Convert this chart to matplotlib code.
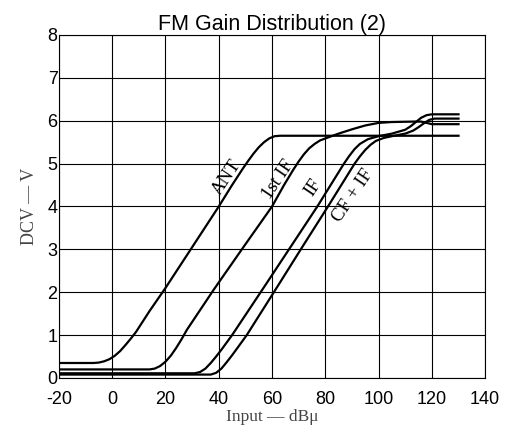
import matplotlib
matplotlib.use("Agg")
import matplotlib.pyplot as plt

plt.rcParams["axes.unicode_minus"] = False

# curves (input dBu, DC volts)
ant_x = [-20, -7, -5, -3, -1, 1, 3, 5, 7, 9, 14, 20, 30, 40, 45, 49, 51, 53, 55, 57, 59, 61, 63, 130]
ant_y = [0.35, 0.35, 0.36, 0.39, 0.44, 0.52, 0.63, 0.77, 0.92, 1.08, 1.56, 2.1, 3.05, 4.0, 4.5, 4.88, 5.06, 5.23, 5.38, 5.5, 5.59, 5.64, 5.65, 5.65]

if1_x = [-20, 14, 16, 18, 20, 22, 24, 26, 28, 38, 49, 60, 64.5, 68, 70, 72, 74, 76, 78, 81, 85, 90, 95, 100, 105, 113, 116, 118, 120, 130]
if1_y = [0.2, 0.2, 0.22, 0.28, 0.38, 0.52, 0.7, 0.9, 1.12, 2.05, 3.03, 4.0, 4.5, 4.86, 5.05, 5.22, 5.36, 5.46, 5.54, 5.61, 5.7, 5.8, 5.89, 5.95, 5.97, 5.98, 5.98, 5.95, 5.92, 5.92]

if_x = [-20, 31, 33, 35, 37, 39, 41, 43, 45, 57, 67, 77, 82, 85, 87, 89, 91, 93, 96, 100, 105, 110, 112, 114, 116, 118, 120, 130]
if_y = [0.11, 0.11, 0.14, 0.22, 0.35, 0.5, 0.66, 0.83, 1.0, 2.12, 3.06, 4.0, 4.5, 4.8, 5.0, 5.18, 5.34, 5.46, 5.57, 5.64, 5.7, 5.79, 5.87, 5.97, 6.07, 6.13, 6.15, 6.15]

cfif_x = [-20, 37, 39, 41, 43, 45, 47, 50.5, 62, 71.5, 81, 86, 89, 91, 93, 95, 97, 99, 102, 105, 110, 113, 115, 117, 119, 121, 130]
cfif_y = [0.08, 0.08, 0.12, 0.22, 0.37, 0.53, 0.7, 1.0, 2.13, 3.07, 4.0, 4.5, 4.8, 5.0, 5.17, 5.32, 5.44, 5.53, 5.6, 5.64, 5.7, 5.77, 5.85, 5.94, 6.02, 6.05, 6.05]

labels = ["ANT", "1st IF", "IF", "CF + IF"]
label_x = [43, 62.3, 75.5, 90.5]
label_y = [4.67, 4.63, 4.44, 4.25]

fig = plt.figure(figsize=(5.08, 4.32), dpi=100)
ax = fig.add_axes([0.116, 0.125, 0.839, 0.794])

for xs, ys in [(ant_x, ant_y), (if1_x, if1_y), (if_x, if_y), (cfif_x, cfif_y)]:
    ax.plot(xs, ys, color="black", lw=1.6, solid_joinstyle="round")

for t, lx, ly in zip(labels, label_x, label_y):
    ax.text(lx, ly, t, rotation=56, ha="center", va="center",
            family="Liberation Serif", fontsize=13.5)

ax.set_xlim(-20, 140)
ax.set_ylim(0, 8)
ax.set_xticks(range(-20, 141, 20))
ax.set_yticks(range(0, 9))
ax.grid(True, color="black", lw=0.8)
ax.tick_params(length=0, labelsize=13)
ax.tick_params(axis="x", pad=9)
ax.tick_params(axis="y", pad=1)
for lab in ax.get_xticklabels() + ax.get_yticklabels():
    lab.set_family("Liberation Sans")
for s in ax.spines.values():
    s.set_linewidth(0.8)

ax.set_title("FM Gain Distribution (2)", family="Liberation Sans", fontsize=15.5, pad=3)
ax.set_xlabel("Input — dBμ", family="Liberation Serif", fontsize=12.5, color="#444444", labelpad=1)
ax.set_ylabel("DCV — V", family="Liberation Serif", fontsize=13, color="#444444", labelpad=7)

fig.savefig("out.png", dpi=100)
